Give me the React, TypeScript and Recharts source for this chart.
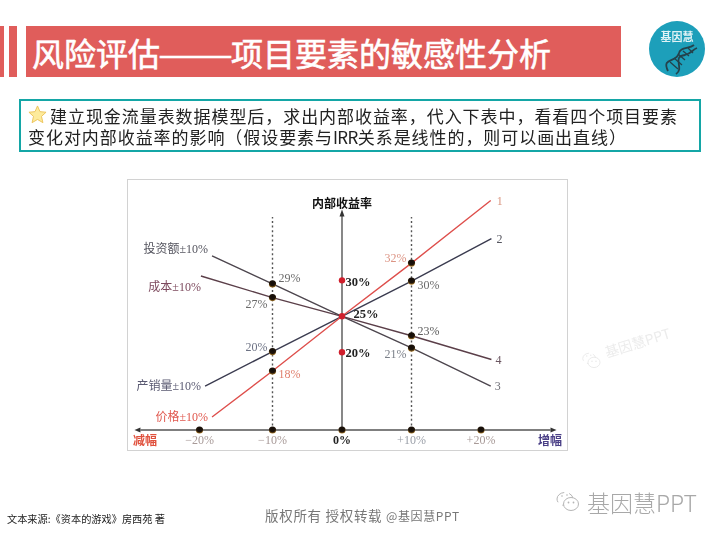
import {
  ComposedChart,
  Line,
  ReferenceDot,
  ReferenceLine,
  XAxis,
  YAxis,
} from 'recharts'

const TITLE_LEFT = '风险评估'
const TITLE_DASH = '——'
const TITLE_RIGHT = '项目要素的敏感性分析'
const NOTE_1 = '建立现金流量表数据模型后，求出内部收益率，代入下表中，看看四个项目要素'
const NOTE_2A = '变化对内部收益率的影响（假设要素与'
const NOTE_2B = 'IRR'
const NOTE_2C = '关系是线性的，则可以画出直线）'

const xTicks = [-20.5, -10, 0, 10, 20]
const xTickLabels = ['−20%', '−10%', '0%', '+10%', '+20%']

const priceX = [-18.7, -10, 0, 10, 21.4]
const priceY = [11, 17.4, 25, 32.4, 41.1]
const priceText = ['价格±10%', '18%', '', '32%', '1']

const volumeX = [-19.7, -10, 0, 10, 21.5]
const volumeY = [15.3, 20.1, 25, 29.9, 35.8]
const volumeText = ['产销量±10%', '20%', '', '30%', '2']

const investX = [-18.7, -10, 0, 10, 21.4]
const investY = [33.4, 29.5, 25, 20.6, 15.3]
const investText = ['投资额±10%', '29%', '', '21%', '3']

const costX = [-20.3, -10, 0, 10, 21.5]
const costY = [30.6, 27.6, 25, 22.3, 19]
const costText = ['成本±10%', '27%', '', '23%', '4']

const centerY = [30, 25, 20]
const centerText = ['30%', '25%', '20%']

const X_MIN = -29
const X_MAX = 30
const Y_MIN = 9.2
const Y_MAX = 42
const Y_AXIS_TOP = 39.3
const GUIDE_TOP = 38.8

const SERIF = '"Liberation Serif", "Noto Sans CJK SC", serif'
const SANS = '"Noto Sans CJK SC", "Noto Sans", sans-serif'

const rows = (xs: number[], ys: number[]) => xs.map((x, i) => ({ x, y: ys[i] }))

type Place = { dx: number; dy: number }

// offsets of each label from its point
const pricePlace: Place[] = [
  { dx: -4, dy: 0 },
  { dx: 17, dy: 3 },
  { dx: 0, dy: 0 },
  { dx: -16, dy: -5 },
  { dx: 9, dy: 1 },
]
const volumePlace: Place[] = [
  { dx: -4, dy: 0 },
  { dx: -16, dy: -5 },
  { dx: 0, dy: 0 },
  { dx: 17, dy: 4 },
  { dx: 8, dy: 0 },
]
const investPlace: Place[] = [
  { dx: -4, dy: -7 },
  { dx: 17, dy: -6 },
  { dx: 0, dy: 0 },
  { dx: -16, dy: 6 },
  { dx: 7, dy: 0 },
]
const costPlace: Place[] = [
  { dx: 0, dy: 11 },
  { dx: -16, dy: 6 },
  { dx: 0, dy: 0 },
  { dx: 17, dy: -5 },
  { dx: 7, dy: 1 },
]
const centerPlace: Place[] = [
  { dx: 16, dy: 2 },
  { dx: 24, dy: -2 },
  { dx: 16, dy: 1 },
]

const endLabel = (texts: string[], place: Place[], colors: string[]) => (p: any) => {
  const text = texts[p.index]
  if (!text) return <g key={p.index} />
  return (
    <text
      key={p.index}
      x={p.x + place[p.index].dx}
      y={p.y + place[p.index].dy}
      fill={colors[p.index]}
      fontFamily={SERIF}
      fontSize={12}
      textAnchor={p.index === 0 ? 'end' : 'middle'}
      dominantBaseline="central"
    >
      {text}
    </text>
  )
}

const ballDot = (p: any) => {
  if (p.index !== 1 && p.index !== 3) return <g key={p.index} />
  return <circle key={p.index} cx={p.cx} cy={p.cy} r={3.6} fill="url(#ball)" />
}

const redDot = (p: any) => <circle key={p.index} cx={p.cx} cy={p.cy} r={3.2} fill="#d01f2c" />

const tickColors = ['#a89a98', '#a89a98', '#222', '#9a9fa8', '#a89a98']

const AxisTick = (p: any) => {
  const i = xTicks.indexOf(p.payload.value)
  return (
    <g>
      <circle cx={p.x} cy={p.y} r={3.6} fill="url(#ball)" />
      <text
        x={p.x}
        y={p.y + 10}
        fill={tickColors[i]}
        fontFamily={SERIF}
        fontSize={12}
        fontWeight={i === 2 ? 700 : 400}
        textAnchor="middle"
        dominantBaseline="central"
      >
        {xTickLabels[i]}
      </text>
    </g>
  )
}

const Arrow = (dir: 'left' | 'right' | 'up') => (p: any) => {
  const { cx, cy } = p
  const pts =
    dir === 'up'
      ? `${cx},${cy - 4} ${cx - 2.5},${cy + 3} ${cx + 2.5},${cy + 3}`
      : dir === 'left'
        ? `${cx - 6},${cy} ${cx},${cy - 2.5} ${cx},${cy + 2.5}`
        : `${cx + 6},${cy} ${cx},${cy - 2.5} ${cx},${cy + 2.5}`
  return <polygon points={pts} fill="#333" />
}

const box = (left: number, top: number, width: number, height: number) => ({
  position: 'absolute' as const,
  left,
  top,
  width,
  height,
})

const line = (left: number, top: number, size: number, color: string, extra = {}) => ({
  position: 'absolute' as const,
  left,
  top,
  fontSize: size,
  color,
  fontFamily: SANS,
  lineHeight: 1,
  whiteSpace: 'nowrap' as const,
  ...extra,
})

const Wechat = ({ x, y, s, color }: { x: number; y: number; s: number; color: string }) => (
  <svg style={{ position: 'absolute', left: x, top: y }} width={24 * s} height={22 * s} viewBox="0 0 24 22">
    <ellipse cx="9" cy="8" rx="8" ry="6.5" fill="none" stroke={color} strokeWidth="1" strokeDasharray="14 5" />
    <ellipse cx="15" cy="13" rx="7.5" ry="6.5" fill="#fff" stroke={color} strokeWidth="1" />
    <circle cx="12.5" cy="11.5" r="0.9" fill={color} />
    <circle cx="17.5" cy="11.5" r="0.9" fill={color} />
    <circle cx="6" cy="5" r="0.8" fill={color} />
    <circle cx="11" cy="4" r="0.8" fill={color} />
  </svg>
)

export default function App() {
  return (
    <div style={{ position: 'absolute', left: 0, top: 0, width: 720, height: 540, background: '#fff', overflow: 'hidden' }}>
      <div style={{ position: 'absolute', inset: 0, filter: 'blur(0.4px)' }}>
        <div style={{ ...box(0, 26, 3.5, 51), background: '#e05d5b' }} />
        <div style={{ ...box(8.5, 26, 8, 51), background: '#e05d5b' }} />
        <div style={{ ...box(25.5, 26, 595, 51), background: '#e05d5b' }} />
        <div style={line(32, 36, 32, '#fff', { WebkitTextStroke: '0.6px #fff' })}>{TITLE_LEFT}</div>
        <div
          style={line(158, 36, 32, '#fff', {
            WebkitTextStroke: '0.4px #fff',
            transform: 'scaleX(1.4)',
            transformOrigin: 'left center',
          })}
        >
          {TITLE_DASH}
        </div>
        <div style={line(231, 36, 32, '#fff', { WebkitTextStroke: '0.6px #fff' })}>{TITLE_RIGHT}</div>

        <svg style={{ ...box(649, 21, 56, 56) }} viewBox="0 0 56 56">
          <circle cx="28" cy="28" r="28" fill="#1d9fba" />
          <text x="28" y="20" fill="#dff2f5" fontFamily={SANS} fontWeight={700} fontSize="11" textAnchor="middle">
            基因慧
          </text>
          <path d="M19 50 C 12 36, 28 42, 30 32 C 31 26, 40 28, 45 24" fill="none" stroke="#24424c" strokeWidth="1.8" />
          <path d="M27 53 C 36 47, 22 36, 36 34 C 43 32, 43 29, 48 27" fill="none" stroke="#24424c" strokeWidth="1.8" />
          <path d="M21 41 L29 48 M25 37 L33 44 M29 33 L36 39 M34 30 L40 35 M39 27 L44 32" stroke="#24424c" strokeWidth="1.3" />
        </svg>

        <div style={{ ...box(19, 99, 682, 53), boxSizing: 'border-box', border: '2.5px solid #14a6a6' }} />
        <svg style={{ ...box(28, 105, 19, 19) }} viewBox="0 0 20 20">
          <polygon
            points="10,1 12.6,7 19,7.6 14.2,12 15.7,18.6 10,15.2 4.3,18.6 5.8,12 1,7.6 7.4,7"
            fill="#fdeb9c"
            stroke="#ecc35a"
            strokeWidth="1"
          />
        </svg>
        <div style={line(50, 107, 17, '#222', { letterSpacing: 0.94 })}>{NOTE_1}</div>
        <div style={line(28, 128, 17, '#222', { letterSpacing: 0.94 })}>
          {NOTE_2A}
          <span style={{ letterSpacing: -0.6 }}>{NOTE_2B}</span>
          {NOTE_2C}
        </div>

        <div style={line(7, 514, 10.2, '#222')}>文本来源:《资本的游戏》房西苑 著</div>
        <div style={line(265, 509, 13.5, '#777', { letterSpacing: 0.7 })}>
          版权所有 授权转载 <span style={{ fontSize: 12, letterSpacing: 0.6 }}>@基因慧PPT</span>
        </div>
        <Wechat x={556} y={491} s={1} color="#b5b5b5" />
        <div style={line(587, 491, 23, '#a8a8a8', { fontWeight: 300 })}>基因慧PPT</div>
      </div>

      <div style={{ position: 'absolute', inset: 0, filter: 'blur(0.6px)' }}>
        <div style={{ ...box(127, 179, 441, 272), boxSizing: 'border-box', border: '1.5px solid #d2d2d2' }} />
        <div style={{ position: 'absolute', left: 582, top: 352, transform: 'rotate(-17deg)', transformOrigin: 'left center' }}>
          <div style={{ fontFamily: SANS, fontSize: 14, color: '#ececec', whiteSpace: 'nowrap', paddingLeft: 24, lineHeight: 1 }}>
            基因慧PPT
          </div>
        </div>
        <Wechat x={582} y={352} s={0.8} color="#e6e6e6" />

        <div style={line(312, 197, 12, '#111', { fontWeight: 700 })}>内部收益率</div>
        <div style={line(133, 434, 12, '#e0503c', { fontWeight: 700 })}>减幅</div>
        <div style={line(538, 434, 12, '#4a3f86', { fontWeight: 700 })}>增幅</div>

        <ComposedChart
          width={720}
          height={540}
          margin={{ top: 194, right: 169.5, bottom: 80, left: 140.45 }}
          style={{ position: 'absolute', left: 0, top: 0 }}
        >
          <defs>
            <radialGradient id="ball" cx="50%" cy="35%" r="70%">
              <stop offset="0%" stopColor="#120c08" />
              <stop offset="60%" stopColor="#1f140a" />
              <stop offset="100%" stopColor="#d2962e" />
            </radialGradient>
          </defs>
          <XAxis
            dataKey="x"
            type="number"
            domain={[X_MIN, X_MAX]}
            ticks={xTicks}
            interval={0}
            height={30}
            tickLine={false}
            tickSize={0}
            tickMargin={0}
            axisLine={{ stroke: '#555', strokeWidth: 1.4 }}
            tick={<AxisTick />}
            allowDataOverflow
          />
          <YAxis hide type="number" domain={[Y_MIN, Y_MAX]} allowDataOverflow />

          <ReferenceLine
            segment={[
              { x: 0, y: Y_MIN },
              { x: 0, y: Y_AXIS_TOP },
            ]}
            stroke="#555"
            strokeWidth={1.4}
          />
          <ReferenceLine
            segment={[
              { x: -10, y: Y_MIN },
              { x: -10, y: GUIDE_TOP },
            ]}
            stroke="#555"
            strokeWidth={1.4}
            strokeDasharray="2 2.6"
          />
          <ReferenceLine
            segment={[
              { x: 10, y: Y_MIN },
              { x: 10, y: GUIDE_TOP },
            ]}
            stroke="#555"
            strokeWidth={1.4}
            strokeDasharray="2 2.6"
          />
          <ReferenceDot x={X_MIN} y={Y_MIN} ifOverflow="visible" shape={Arrow('left')} />
          <ReferenceDot x={X_MAX} y={Y_MIN} ifOverflow="visible" shape={Arrow('right')} />
          <ReferenceDot x={0} y={Y_AXIS_TOP} ifOverflow="visible" shape={Arrow('up')} />

          <Line
            data={rows(costX, costY)}
            dataKey="y"
            stroke="#5b3f49"
            strokeWidth={1.4}
            dot={ballDot}
            activeDot={false}
            label={endLabel(costText, costPlace, ['#7d4a5e', '#6a6a6a', '', '#5c5c5c', '#6a5560'])}
            isAnimationActive={false}
          />
          <Line
            data={rows(investX, investY)}
            dataKey="y"
            stroke="#4d464e"
            strokeWidth={1.4}
            dot={ballDot}
            activeDot={false}
            label={endLabel(investText, investPlace, ['#55555f', '#6a6a6a', '', '#7a7f88', '#6a6a72'])}
            isAnimationActive={false}
          />
          <Line
            data={rows(volumeX, volumeY)}
            dataKey="y"
            stroke="#3b3c50"
            strokeWidth={1.4}
            dot={ballDot}
            activeDot={false}
            label={endLabel(volumeText, volumePlace, ['#5a5a72', '#6d7284', '', '#6a6a6a', '#55555f'])}
            isAnimationActive={false}
          />
          <Line
            data={rows(priceX, priceY)}
            dataKey="y"
            stroke="#de4f4c"
            strokeWidth={1.4}
            dot={ballDot}
            activeDot={false}
            label={endLabel(priceText, pricePlace, ['#e0584e', '#e0806e', '', '#dc9484', '#d9957f'])}
            isAnimationActive={false}
          />
          <Line
            data={centerY.map((y) => ({ x: 0, y }))}
            dataKey="y"
            stroke="none"
            dot={redDot}
            activeDot={false}
            label={(p: any) => (
              <text
                key={p.index}
                x={p.x + centerPlace[p.index].dx}
                y={p.y + centerPlace[p.index].dy}
                fill="#222"
                fontFamily={SERIF}
                fontSize={12.5}
                fontWeight={700}
                textAnchor="middle"
                dominantBaseline="central"
              >
                {centerText[p.index]}
              </text>
            )}
            isAnimationActive={false}
          />
        </ComposedChart>
      </div>
    </div>
  )
}
